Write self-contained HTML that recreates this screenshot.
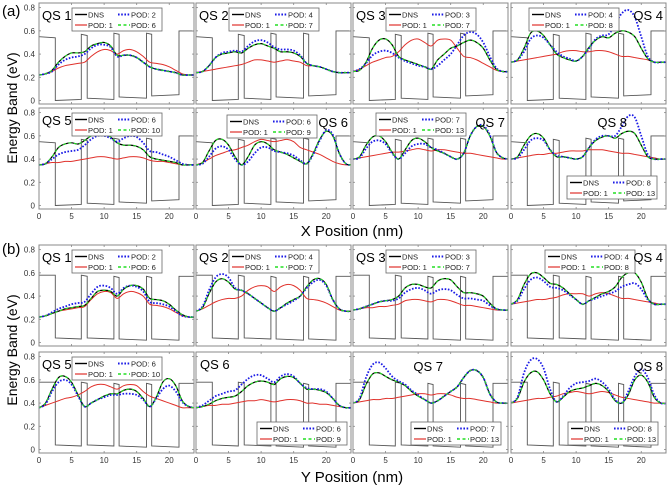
<!DOCTYPE html>
<html><head><meta charset="utf-8"><style>
html,body{margin:0;padding:0;background:#fff;}
svg{display:block;font-family:"Liberation Sans",sans-serif;}
</style></head><body>
<svg id="c" width="668" height="486" viewBox="0 0 668 486"></svg>
<script>
const xs=[0,1,2,3,4,5,6,7,8,9,10,11,12,13,14,15,16,17,18,19,20,21,22,23,24];
const profileX=[0,2.5,2.5,6.5,6.5,7.4,7.4,11.5,11.5,12.3,12.3,16.5,16.5,17.3,17.3,21.5,21.5,23.8];
const profileA=[0.55,0.54,0.0,0.01,0.57,0.56,0.02,0.01,0.58,0.57,0.03,0.02,0.58,0.57,0.04,0.05,0.60,0.60];
const profileB=[0.58,0.58,0.04,0.03,0.58,0.57,0.04,0.03,0.57,0.56,0.03,0.02,0.57,0.56,0.03,0.02,0.57,0.57];
const labels=["QS 1","QS 2","QS 3","QS 4","QS 5","QS 6","QS 7","QS 8"];
const podK=[2,4,3,4,6,6,7,8];
const podM=[6,7,7,8,10,9,13,13];
const dnsA=[
[.22,.23,.26,.33,.38,.41,.41,.42,.47,.49,.50,.47,.39,.39,.39,.37,.33,.29,.27,.26,.25,.24,.22,.22,.22],
[.24,.25,.30,.37,.40,.41,.42,.41,.45,.48,.49,.47,.45,.42,.42,.41,.38,.32,.30,.29,.27,.25,.24,.24,.24],
[.25,.26,.33,.45,.52,.53,.48,.38,.35,.33,.31,.29,.27,.35,.40,.45,.47,.50,.52,.50,.45,.35,.27,.25,.25],
[.33,.35,.45,.58,.60,.56,.48,.40,.37,.35,.34,.38,.46,.52,.55,.54,.58,.60,.59,.55,.45,.36,.33,.33,.33],
[.35,.36,.42,.50,.53,.54,.53,.56,.60,.62,.62,.59,.54,.52,.52,.51,.48,.42,.40,.39,.38,.37,.35,.35,.35],
[.35,.37,.47,.56,.57,.52,.42,.35,.42,.52,.55,.53,.48,.46,.44,.41,.38,.36,.45,.57,.64,.60,.45,.36,.35],
[.40,.42,.52,.59,.60,.55,.46,.40,.48,.56,.58,.55,.50,.47,.45,.42,.40,.45,.60,.68,.68,.60,.46,.41,.40],
[.40,.42,.52,.60,.62,.58,.48,.42,.42,.41,.40,.42,.50,.56,.59,.60,.58,.62,.64,.62,.52,.42,.40,.40,.40]];
const redA=[
[.22,.23,.25,.28,.30,.31,.32,.33,.38,.42,.44,.43,.40,.43,.44,.42,.38,.33,.32,.31,.29,.26,.23,.22,.22],
[.24,.25,.26,.27,.28,.29,.30,.31,.33,.35,.35,.34,.33,.34,.35,.34,.33,.30,.30,.29,.27,.25,.24,.24,.24],
[.25,.27,.30,.33,.35,.37,.38,.42,.48,.52,.53,.50,.47,.52,.53,.52,.45,.38,.37,.35,.32,.29,.26,.25,.25],
[.33,.34,.35,.36,.37,.38,.39,.40,.42,.43,.43,.42,.42,.43,.43,.42,.40,.38,.38,.37,.36,.35,.33,.33,.33],
[.35,.36,.37,.37,.38,.38,.39,.40,.41,.42,.42,.41,.40,.41,.42,.42,.41,.39,.38,.38,.37,.36,.35,.35,.35],
[.35,.37,.40,.43,.45,.47,.48,.50,.52,.55,.57,.56,.55,.56,.57,.55,.50,.48,.46,.44,.41,.38,.36,.35,.35],
[.40,.41,.42,.43,.44,.45,.46,.46,.47,.48,.49,.48,.47,.48,.48,.47,.46,.45,.45,.44,.43,.42,.41,.40,.40],
[.40,.41,.42,.43,.44,.44,.45,.45,.46,.47,.47,.47,.48,.48,.48,.47,.46,.45,.45,.44,.43,.42,.41,.40,.40]];
const blueA=[
[.22,.23,.25,.31,.35,.37,.38,.40,.45,.48,.48,.46,.38,.39,.39,.37,.33,.29,.27,.26,.25,.24,.22,.22,.22],
[.24,.25,.30,.37,.41,.42,.43,.42,.47,.51,.52,.50,.46,.44,.44,.43,.39,.32,.30,.29,.27,.25,.24,.24,.24],
[.25,.27,.32,.39,.42,.43,.41,.37,.34,.32,.30,.29,.27,.30,.35,.40,.48,.56,.59,.57,.50,.38,.28,.25,.25],
[.33,.35,.42,.53,.56,.54,.48,.42,.38,.36,.34,.38,.45,.53,.56,.57,.66,.75,.78,.72,.55,.38,.33,.33,.33],
[.35,.36,.40,.44,.46,.47,.48,.52,.57,.60,.60,.58,.55,.58,.60,.59,.54,.47,.46,.44,.42,.39,.36,.35,.35],
[.35,.36,.42,.49,.51,.48,.40,.35,.38,.45,.50,.50,.47,.46,.45,.43,.39,.36,.44,.56,.65,.61,.45,.36,.35],
[.40,.41,.49,.55,.56,.53,.45,.40,.45,.51,.53,.53,.50,.48,.45,.42,.40,.45,.60,.68,.69,.61,.46,.41,.40],
[.40,.41,.48,.56,.58,.56,.48,.43,.42,.41,.40,.42,.50,.57,.60,.60,.60,.68,.77,.76,.60,.44,.40,.40,.40]];
const dnsB=[
[.22,.23,.25,.27,.29,.30,.31,.32,.38,.44,.45,.44,.40,.46,.49,.49,.46,.38,.37,.36,.33,.28,.24,.22,.22],
[.27,.30,.42,.52,.55,.52,.46,.45,.42,.38,.34,.30,.27,.30,.34,.37,.40,.48,.54,.55,.50,.37,.29,.27,.27],
[.28,.29,.31,.33,.35,.36,.37,.40,.47,.50,.50,.48,.47,.53,.55,.54,.48,.43,.43,.42,.40,.34,.29,.28,.28],
[.33,.37,.50,.59,.60,.56,.51,.50,.47,.42,.37,.33,.36,.39,.42,.44,.48,.56,.60,.60,.52,.38,.33,.33,.33],
[.36,.40,.52,.62,.63,.58,.47,.37,.40,.43,.46,.48,.48,.51,.52,.50,.44,.37,.45,.58,.61,.55,.42,.37,.36],
[.36,.37,.39,.42,.44,.45,.46,.50,.55,.58,.59,.58,.56,.61,.63,.62,.57,.52,.52,.51,.49,.44,.38,.36,.36],
[.40,.43,.56,.65,.66,.63,.60,.58,.55,.50,.46,.43,.40,.42,.46,.50,.54,.62,.68,.68,.62,.48,.41,.40,.40],
[.40,.44,.58,.66,.67,.60,.48,.41,.45,.50,.52,.53,.55,.57,.55,.50,.42,.40,.47,.60,.64,.58,.45,.40,.40]];
const redB=[
[.22,.23,.25,.27,.28,.29,.30,.31,.37,.42,.44,.43,.38,.42,.44,.43,.40,.33,.32,.31,.29,.26,.23,.22,.22],
[.27,.29,.32,.35,.37,.38,.38,.40,.45,.48,.49,.48,.44,.48,.50,.49,.45,.38,.37,.36,.34,.31,.28,.27,.27],
[.28,.29,.30,.30,.31,.31,.32,.33,.36,.37,.37,.36,.35,.37,.37,.36,.34,.32,.32,.31,.30,.29,.28,.28,.28],
[.33,.34,.35,.36,.37,.37,.38,.39,.41,.42,.42,.42,.40,.42,.43,.42,.40,.38,.38,.37,.36,.35,.34,.33,.33],
[.36,.38,.40,.42,.44,.45,.47,.50,.54,.56,.56,.54,.52,.55,.56,.55,.50,.46,.44,.42,.40,.38,.36,.36,.36],
[.36,.37,.38,.38,.39,.39,.40,.41,.42,.42,.43,.42,.41,.42,.43,.43,.42,.40,.40,.39,.39,.38,.37,.36,.36],
[.40,.41,.42,.43,.43,.44,.44,.45,.46,.47,.48,.48,.47,.48,.48,.47,.45,.44,.44,.43,.42,.41,.40,.40,.40],
[.40,.41,.42,.43,.44,.44,.45,.46,.48,.49,.50,.49,.48,.49,.50,.49,.47,.45,.44,.43,.42,.41,.40,.40,.40]];
const blueB=[
[.22,.23,.26,.29,.31,.33,.34,.35,.42,.48,.49,.47,.42,.47,.49,.48,.44,.35,.34,.33,.31,.27,.23,.22,.22],
[.27,.31,.45,.56,.59,.56,.47,.45,.42,.38,.34,.30,.27,.30,.33,.36,.40,.47,.52,.54,.49,.37,.29,.27,.27],
[.28,.29,.31,.33,.35,.36,.36,.38,.43,.46,.47,.45,.42,.45,.46,.45,.41,.38,.38,.37,.36,.32,.29,.28,.28],
[.33,.36,.46,.54,.56,.53,.48,.47,.45,.41,.37,.33,.36,.38,.40,.42,.44,.48,.50,.51,.46,.37,.33,.33,.33],
[.36,.39,.50,.58,.60,.56,.46,.37,.40,.43,.45,.47,.47,.48,.48,.47,.43,.37,.44,.52,.55,.50,.41,.37,.36],
[.36,.38,.42,.46,.48,.50,.51,.56,.61,.64,.64,.61,.58,.63,.65,.63,.57,.53,.52,.52,.50,.44,.38,.36,.36],
[.40,.44,.62,.73,.75,.70,.63,.59,.56,.51,.47,.43,.40,.42,.46,.50,.54,.62,.68,.68,.62,.48,.41,.40,.40],
[.40,.45,.66,.77,.78,.70,.52,.41,.46,.53,.57,.58,.59,.61,.58,.52,.43,.40,.50,.63,.69,.62,.47,.40,.40]];
const xTicks=[0,5,10,15,20];
const yTicks=[0,0.2,0.4,0.6,0.8];

const NS="http://www.w3.org/2000/svg";
const svg=document.getElementById('c');
function mk(tag,at,parent){const e=document.createElementNS(NS,tag);for(const k in at)e.setAttribute(k,at[k]);(parent||svg).appendChild(e);return e;}
const colL=[39,196,353,511], W=155, H=101;
const rowT=[3,108,245,352];
const XMAX=23.8, YMIN=-0.03, YMAX=0.84;
const legA=[[33,5],[33,5],[33,5],[18,5],[33,5],[31,7],[23,5],[56,68]];
const legB=[[33,5],[33,5],[33,5],[34,5],[33,5],[61,70],[58,70],[57,70]];
const labA=[[3,17,'start'],[3,17,'start'],[3,17,'start'],[152,17,'end'],[3,17,'start'],[152,19,'end'],[152,19,'end'],[116,19,'end']];
const labB=[[3,17,'start'],[3,17,'start'],[3,17,'start'],[152,17,'end'],[3,17,'start'],[4,17,'start'],[90,19,'end'],[152,19,'end']];

function smooth(pts){let d='M'+pts[0][0].toFixed(2)+','+pts[0][1].toFixed(2);
 for(let i=0;i<pts.length-1;i++){const p0=pts[Math.max(0,i-1)],p1=pts[i],p2=pts[i+1],p3=pts[Math.min(pts.length-1,i+2)];
  const c1=[p1[0]+(p2[0]-p0[0])/6,p1[1]+(p2[1]-p0[1])/6],c2=[p2[0]-(p3[0]-p1[0])/6,p2[1]-(p3[1]-p1[1])/6];
  d+='C'+c1[0].toFixed(2)+','+c1[1].toFixed(2)+' '+c2[0].toFixed(2)+','+c2[1].toFixed(2)+' '+p2[0].toFixed(2)+','+p2[1].toFixed(2);}
 return d;}

function panel(grp,idx,L,T,dns,red,blue,prof,leg,lab,showY,showX){
 const sx=v=>L+v/XMAX*W, sy=v=>T+H-(v-YMIN)/(YMAX-YMIN)*H;
 const g=mk('g',{});
 
 
 const cid='clip'+grp+idx;
 const cp=mk('clipPath',{id:cid},g);mk('rect',{x:L,y:T,width:W,height:H},cp);
 const pg=mk('g',{'clip-path':'url(#'+cid+')'},g);
 const pp=mk('polyline',{points:prof.map((v,i)=>sx(profileX[i]).toFixed(1)+','+sy(v).toFixed(1)).join(' '),fill:'none',stroke:'#555',"stroke-width":0.9},pg);
 
 
 const mkCurve=(arr,col,w,dash,name)=>{const p=mk('path',{d:smooth(arr.map((v,i)=>[sx(xs[i]),sy(v)])),fill:'none',stroke:col,'stroke-width':w},pg);
  if(dash)p.setAttribute('stroke-dasharray',dash);
  
  };
 mkCurve(red,'#e0312b',1,null,'pod-1-curve');
 mkCurve(dns,'#000',1.2,null,'dns-curve');
 mkCurve(blue,'#1a1ae6',1.8,'1.6,1.6','pod-k-curve');
 mkCurve(dns,'#22dd22',1.1,'3,2.5','pod-m-curve');
 const fr=mk('rect',{x:L,y:T,width:W,height:H,fill:'none',stroke:'#888','stroke-width':1},g);
 
 
 xTicks.forEach(t=>{mk('line',{x1:sx(t),x2:sx(t),y1:T+H,y2:T+H-2,stroke:'#888','stroke-width':0.8},g);mk('line',{x1:sx(t),x2:sx(t),y1:T,y2:T+2,stroke:'#888','stroke-width':0.8},g);
  if(showX){const tx=mk('text',{x:sx(t),y:T+H+10,'font-size':8,'text-anchor':'middle',fill:'#333'},g);tx.textContent=t;
   
   }});
 yTicks.forEach(t=>{mk('line',{x1:L,x2:L+2,y1:sy(t),y2:sy(t),stroke:'#888','stroke-width':0.8},g);mk('line',{x1:L+W,x2:L+W-2,y1:sy(t),y2:sy(t),stroke:'#888','stroke-width':0.8},g);
  if(showY){const tx=mk('text',{x:L-4,y:sy(t)+3,'font-size':8,'text-anchor':'end',fill:'#333'},g);tx.textContent=t===0?'0':t.toFixed(1);
   
   }});
 const lx=L+leg[0], ly=T+leg[1];
 const lg=mk('g',{},g);
 
 
 mk('rect',{x:lx,y:ly,width:90,height:23,fill:'#fff',stroke:'#666','stroke-width':0.8},lg);
 const ent=(x,y,col,w,dash,txt)=>{const l=mk('line',{x1:x,x2:x+12,y1:y,y2:y,stroke:col,'stroke-width':w},lg);if(dash)l.setAttribute('stroke-dasharray',dash);
  const t=mk('text',{x:x+13,y:y+2.8,'font-size':7.6,fill:'#222'},lg);t.textContent=txt;
  
  };
 ent(lx+3,ly+6.5,'#000',1.4,null,'DNS');
 ent(lx+46,ly+6.5,'#1a1ae6',2,'1.6,1.6','POD: '+podK[idx]);
 ent(lx+3,ly+17,'#e0312b',1.2,null,'POD: 1');
 ent(lx+46,ly+17,'#22dd22',1.4,'3,2.5','POD: '+podM[idx]);
 const lt=mk('text',{x:L+lab[0],y:T+lab[1],'font-size':13,'text-anchor':lab[2],fill:'#000'},g);lt.textContent=labels[idx];
 
 
}
for(let i=0;i<8;i++){const r=Math.floor(i/4),c=i%4;
 panel('a',i,colL[c],rowT[r],dnsA[i],redA[i],blueA[i],profileA,legA[i],labA[i],c===0,r===1);
 panel('b',i,colL[c],rowT[2+r],dnsB[i],redB[i],blueB[i],profileB,legB[i],labB[i],c===0,r===1);}
function txt(at,s,name){const t=mk('text',at);t.textContent=s;return t;}
txt({x:2,y:16,'font-size':15,fill:'#000'},'(a)','label-a');
txt({x:2,y:254,'font-size':15,fill:'#000'},'(b)','label-b');
txt({x:352,y:236,'font-size':15,'text-anchor':'middle',fill:'#000'},'X Position (nm)','x-axis-title-a');
txt({x:352,y:482,'font-size':15,'text-anchor':'middle',fill:'#000'},'Y Position (nm)','x-axis-title-b');
txt({x:17,y:108,'font-size':14,'text-anchor':'middle',fill:'#000',transform:'rotate(-90 17 108)'},'Energy Band (eV)','y-axis-title-a');
txt({x:17,y:350,'font-size':14,'text-anchor':'middle',fill:'#000',transform:'rotate(-90 17 350)'},'Energy Band (eV)','y-axis-title-b');
</script>
</body></html>
